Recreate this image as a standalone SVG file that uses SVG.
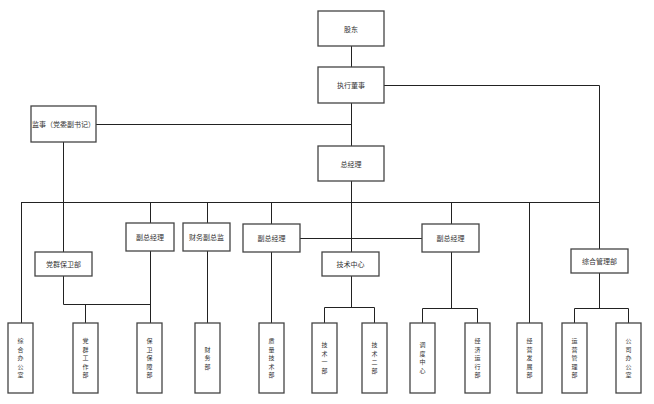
<svg xmlns="http://www.w3.org/2000/svg" width="654" height="404" viewBox="0 0 654 404">
<style>
.b{fill:#fff;stroke:#444;stroke-width:1.3}
.t{font-family:"Noto Sans CJK SC","Noto Sans",sans-serif;font-size:7px;fill:#333;text-anchor:middle;dominant-baseline:central}
.v{font-family:"Noto Sans CJK SC","Noto Sans",sans-serif;font-size:6px;fill:#333;text-anchor:middle}
.c{fill:none;stroke:#222;stroke-width:1}
</style>
<rect width="654" height="404" fill="#fff"/>
<g id="connectors" class="c">
<path d="M351.5 46V67M351.5 103V146M96 124.5H351.5M384 85.5H599.5V249M351.5 181V252"/>
<path d="M21.5 202.5H599.5M63.5 142V252M21.5 202V323"/>
<path d="M150.5 202V223M150.5 251V323M207.5 202V223M207.5 251V323M271.5 202V224M271.5 252V323"/>
<path d="M300 238.5H422M451.5 202V224M451.5 252V308M529.5 202V323M599.5 273V308"/>
<path d="M63.5 276V304.5H150.5M85.5 304V323"/>
<path d="M351.5 276V307.5M324.5 323V307.5H374.5V323"/>
<path d="M422.5 323V308.5H477.5V323"/>
<path d="M574.5 323V308.5H628.5V323"/>
</g>
<g id="n-gudong"><rect class="b" x="318" y="11" width="66" height="35"/><text class="t" x="351" y="29">股东</text></g>
<g id="n-zhixing"><rect class="b" x="318" y="67" width="66" height="36"/><text class="t" x="351" y="85">执行董事</text></g>
<g id="n-jianshi"><rect class="b" x="31" y="106" width="65" height="36"/><text class="t" x="63.5" y="124">监事（党委副书记）</text></g>
<g id="n-zongjingli"><rect class="b" x="318" y="146" width="66" height="35"/><text class="t" x="351" y="163.5">总经理</text></g>
<g id="n-dangqun"><rect class="b" x="35" y="252" width="57" height="24"/><text class="t" x="63.5" y="264">党群保卫部</text></g>
<g id="n-fu1"><rect class="b" x="126" y="223" width="48" height="28"/><text class="t" x="150" y="237">副总经理</text></g>
<g id="n-caiwufu"><rect class="b" x="183" y="223" width="47" height="28"/><text class="t" x="206.5" y="237">财务副总监</text></g>
<g id="n-fu2"><rect class="b" x="243" y="224" width="57" height="28"/><text class="t" x="271.5" y="238">副总经理</text></g>
<g id="n-jishuzx"><rect class="b" x="322" y="252" width="57" height="24"/><text class="t" x="350.5" y="264">技术中心</text></g>
<g id="n-fu3"><rect class="b" x="422" y="224" width="57" height="28"/><text class="t" x="450.5" y="238">副总经理</text></g>
<g id="n-zonghe"><rect class="b" x="571" y="249" width="57" height="24"/><text class="t" x="599.5" y="261">综合管理部</text></g>
<g id="n-b1"><rect class="b" x="8" y="323" width="25" height="70"/><text class="v" x="20.5" y="343"><tspan x="20.5">综</tspan><tspan x="20.5" dy="8.5">合</tspan><tspan x="20.5" dy="8.5">办</tspan><tspan x="20.5" dy="8.5">公</tspan><tspan x="20.5" dy="8.5">室</tspan></text></g>
<g id="n-b2"><rect class="b" x="73" y="323" width="25" height="70"/><text class="v" x="85.5" y="343"><tspan x="85.5">党</tspan><tspan x="85.5" dy="8.5">群</tspan><tspan x="85.5" dy="8.5">工</tspan><tspan x="85.5" dy="8.5">作</tspan><tspan x="85.5" dy="8.5">部</tspan></text></g>
<g id="n-b3"><rect class="b" x="137" y="323" width="25" height="70"/><text class="v" x="149.5" y="343"><tspan x="149.5">保</tspan><tspan x="149.5" dy="8.5">卫</tspan><tspan x="149.5" dy="8.5">保</tspan><tspan x="149.5" dy="8.5">障</tspan><tspan x="149.5" dy="8.5">部</tspan></text></g>
<g id="n-b4"><rect class="b" x="195" y="323" width="25" height="70"/><text class="v" x="207.5" y="351.5"><tspan x="207.5">财</tspan><tspan x="207.5" dy="8.5">务</tspan><tspan x="207.5" dy="8.5">部</tspan></text></g>
<g id="n-b5"><rect class="b" x="259" y="323" width="25" height="70"/><text class="v" x="271.5" y="343"><tspan x="271.5">质</tspan><tspan x="271.5" dy="8.5">量</tspan><tspan x="271.5" dy="8.5">技</tspan><tspan x="271.5" dy="8.5">术</tspan><tspan x="271.5" dy="8.5">部</tspan></text></g>
<g id="n-b6"><rect class="b" x="312" y="323" width="25" height="70"/><text class="v" x="324.5" y="347"><tspan x="324.5">技</tspan><tspan x="324.5" dy="8.5">术</tspan><tspan x="324.5" dy="8.5">一</tspan><tspan x="324.5" dy="8.5">部</tspan></text></g>
<g id="n-b7"><rect class="b" x="362" y="323" width="25" height="70"/><text class="v" x="374.5" y="347"><tspan x="374.5">技</tspan><tspan x="374.5" dy="8.5">术</tspan><tspan x="374.5" dy="8.5">二</tspan><tspan x="374.5" dy="8.5">部</tspan></text></g>
<g id="n-b8"><rect class="b" x="410" y="323" width="25" height="70"/><text class="v" x="422.5" y="347"><tspan x="422.5">调</tspan><tspan x="422.5" dy="8.5">度</tspan><tspan x="422.5" dy="8.5">中</tspan><tspan x="422.5" dy="8.5">心</tspan></text></g>
<g id="n-b9"><rect class="b" x="465" y="323" width="25" height="70"/><text class="v" x="477.5" y="343"><tspan x="477.5">经</tspan><tspan x="477.5" dy="8.5">济</tspan><tspan x="477.5" dy="8.5">运</tspan><tspan x="477.5" dy="8.5">行</tspan><tspan x="477.5" dy="8.5">部</tspan></text></g>
<g id="n-b10"><rect class="b" x="517" y="323" width="25" height="70"/><text class="v" x="529.5" y="343"><tspan x="529.5">经</tspan><tspan x="529.5" dy="8.5">营</tspan><tspan x="529.5" dy="8.5">发</tspan><tspan x="529.5" dy="8.5">展</tspan><tspan x="529.5" dy="8.5">部</tspan></text></g>
<g id="n-b11"><rect class="b" x="562" y="323" width="25" height="70"/><text class="v" x="574.5" y="343"><tspan x="574.5">运</tspan><tspan x="574.5" dy="8.5">营</tspan><tspan x="574.5" dy="8.5">管</tspan><tspan x="574.5" dy="8.5">理</tspan><tspan x="574.5" dy="8.5">部</tspan></text></g>
<g id="n-b12"><rect class="b" x="616" y="323" width="25" height="70"/><text class="v" x="628.5" y="343"><tspan x="628.5">公</tspan><tspan x="628.5" dy="8.5">司</tspan><tspan x="628.5" dy="8.5">办</tspan><tspan x="628.5" dy="8.5">公</tspan><tspan x="628.5" dy="8.5">室</tspan></text></g>
</svg>
